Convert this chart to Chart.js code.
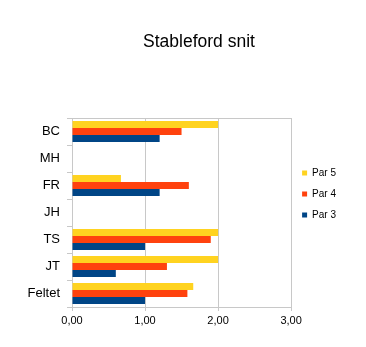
<!DOCTYPE html>
<html>
<head>
<meta charset="utf-8">
<title>Stableford snit</title>
<script src="https://cdn.jsdelivr.net/npm/chart.js@4/dist/chart.umd.min.js"></script>
<style>
  html, body { margin: 0; padding: 0; background: #fff; }
  #chart { display: block; }
</style>
</head>
<body>
<canvas id="chart" width="366" height="347"></canvas>
<script>
// Spillere og gjennomsnittlig stableford per hulltype
const players = ['BC', 'MH', 'FR', 'JH', 'TS', 'JT', 'Feltet'];
const par5 = [2.00, null, 0.67, null, 2.00, 2.00, 1.66];
const par4 = [1.50, null, 1.60, null, 1.90, 1.30, 1.58];
const par3 = [1.20, null, 1.20, null, 1.00, 0.60, 1.00];
const xTicks = [0, 1, 2, 3];
const chartTitle = 'Stableford snit';

const gridColor = '#c8c8c8';
const font = 'Liberation Sans, Arial, sans-serif';

// tittelen tegnes selv, sentrert over plot + legende slik som i regnearket
const titlePlugin = {
    id: 'sheetTitle',
    afterDraw(chart) {
        const c = chart.ctx;
        c.save();
        c.fillStyle = '#000';
        c.font = '17.5px ' + font;
        c.textAlign = 'center';
        c.textBaseline = 'middle';
        c.fillText(chartTitle, 199, 42);
        c.restore();
    }
};

const ctx = document.getElementById('chart').getContext('2d');
new Chart(ctx, {
    type: 'bar',
    data: {
        labels: players,
        datasets: [
            { label: 'Par 5', data: par5, backgroundColor: '#ffd320' },
            { label: 'Par 4', data: par4, backgroundColor: '#ff420e' },
            { label: 'Par 3', data: par3, backgroundColor: '#004586' }
        ]
    },
    plugins: [titlePlugin],
    options: {
        indexAxis: 'y',
        responsive: false,
        animation: false,
        categoryPercentage: 0.77,
        barPercentage: 1,
        layout: {
            padding: { left: 20, right: 20, top: 41, bottom: 0 }
        },
        scales: {
            x: {
                min: 0,
                max: 3,
                afterBuildTicks: (scale) => {
                    scale.ticks = xTicks.map(v => ({ value: v }));
                },
                afterFit: (scale) => { scale.height = 40; },
                ticks: {
                    color: '#000',
                    font: { family: font, size: 11 },
                    padding: 3,
                    callback: (v) => v.toFixed(2).replace('.', ',')
                },
                grid: { color: gridColor, tickLength: 4 },
                border: { color: gridColor }
            },
            // tom akse oppe, gir rammelinjen og plass til tittelen
            xTop: {
                axis: 'x',
                position: 'top',
                min: 0,
                max: 3,
                ticks: { display: false },
                grid: { display: false },
                border: { display: true, color: gridColor },
                afterFit: (scale) => { scale.height = 77; }
            },
            y: {
                afterFit: (scale) => { scale.width = 52; },
                ticks: {
                    color: '#000',
                    font: { family: font, size: 13 },
                    padding: 7
                },
                grid: {
                    offset: true,
                    drawOnChartArea: false,
                    tickLength: 5,
                    color: gridColor
                },
                border: { color: gridColor }
            }
        },
        plugins: {
            title: { display: false },
            legend: {
                position: 'right',
                labels: {
                    color: '#000',
                    font: { family: font, size: 10 },
                    boxWidth: 5,
                    boxHeight: 5,
                    padding: 11
                }
            },
            tooltip: { enabled: false }
        }
    }
});
</script>
</body>
</html>
